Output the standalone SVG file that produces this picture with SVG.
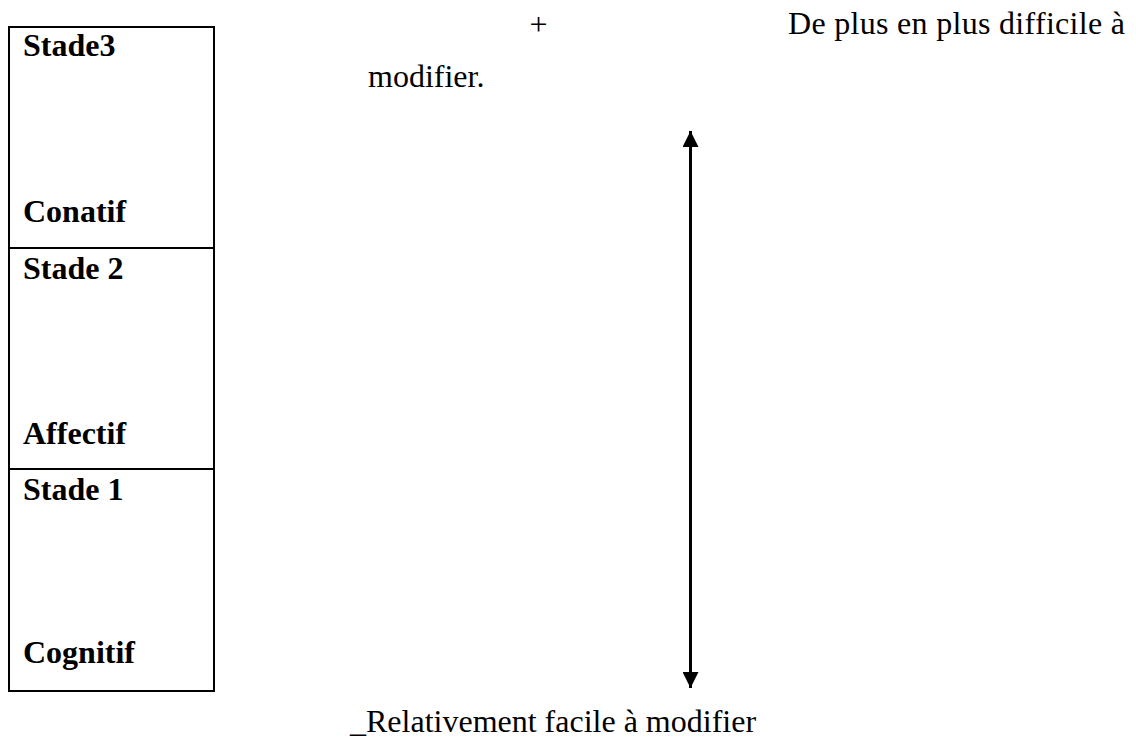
<svg xmlns="http://www.w3.org/2000/svg" width="1136" height="747" viewBox="0 0 1136 747">
<style>
.box{fill:#fff;stroke:#000;stroke-width:2}
.lbl{font-family:"Liberation Serif","Times New Roman",serif;font-weight:bold;font-size:32px;fill:#000}
.txt{font-family:"Liberation Serif","Times New Roman",serif;font-size:32px;fill:#000}
.conn{stroke:#000;stroke-width:3;fill:none}
</style>
<defs>
<marker id="ah" viewBox="0 0 16 16" refX="16" refY="8" markerWidth="16" markerHeight="16" markerUnits="userSpaceOnUse" orient="auto-start-reverse">
<path d="M0,0 L16,8 L0,16 Z" fill="#000"/>
</marker>
</defs>
<rect width="1136" height="747" fill="#fff"/>
<g id="stade3">
<rect class="box" x="9" y="27" width="205" height="221"/>
<text class="lbl" x="23" y="56">Stade3</text>
<text class="lbl" x="23" y="222">Conatif</text>
</g>
<g id="stade2">
<rect class="box" x="9" y="248" width="205" height="221"/>
<text class="lbl" x="23" y="279">Stade 2</text>
<text class="lbl" x="23" y="444">Affectif</text>
</g>
<g id="stade1">
<rect class="box" x="9" y="469" width="205" height="222"/>
<text class="lbl" x="23" y="500">Stade 1</text>
<text class="lbl" x="23" y="663">Cognitif</text>
</g>
<g id="connectors">
<line class="conn" x1="690.5" y1="131" x2="690.5" y2="688" marker-start="url(#ah)" marker-end="url(#ah)"/>
</g>
<g id="labels">
<text class="txt" x="538.5" y="35" text-anchor="middle">+</text>
<text class="txt" x="788" y="34" textLength="337" lengthAdjust="spacing">De plus en plus difficile à</text>
<text class="txt" x="368" y="87">modifier.</text>
<text class="txt" x="350" y="732">_Relativement facile à modifier</text>
</g>
</svg>
